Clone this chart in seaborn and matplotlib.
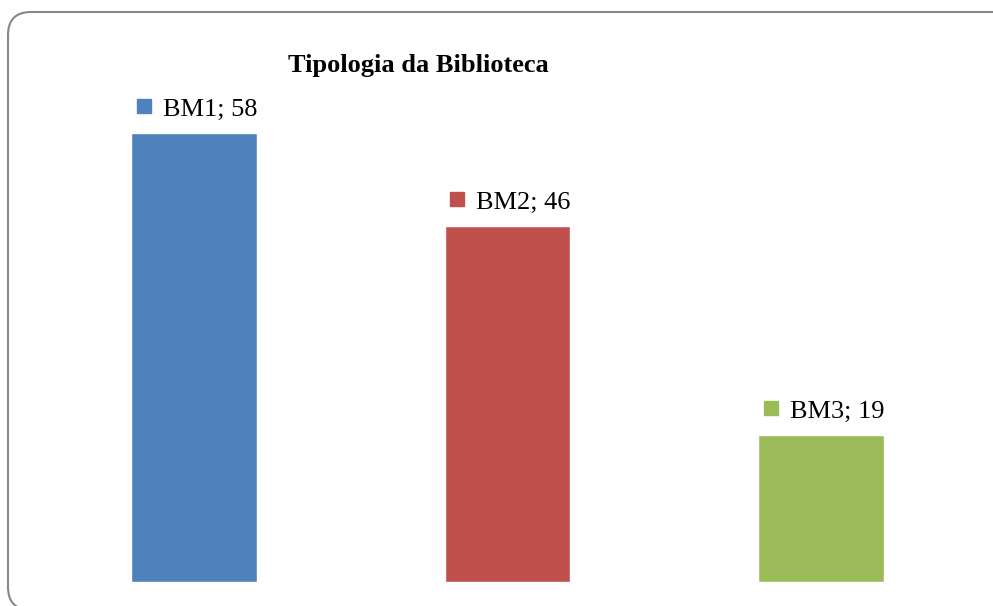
import seaborn as sns
import pandas as pd
import matplotlib.pyplot as plt
from matplotlib.patches import FancyBboxPatch
from matplotlib.transforms import offset_copy, IdentityTransform

# data
categories = ['BM1', 'BM2', 'BM3']
values = [58, 46, 19]
colors = ['#4F81BD', '#C0504D', '#9BBB59']

df = pd.DataFrame({'tipo': categories, 'n': values})

sns.set_style('white')
plt.rcParams['font.family'] = ['Liberation Serif', 'DejaVu Serif']

fig = plt.figure(figsize=(9.93, 6.06), dpi=100)
ax = fig.add_axes([37 / 993, 0.0401, 941 / 993, 0.8297])

# bars
sns.barplot(data=df, x='tipo', y='n', hue='tipo', palette=colors,
            width=0.4, legend=False, ax=ax, saturation=1)

ax.set_xlim(-0.5, 2.5)
ax.set_ylim(0, 65)
ax.set_axis_off()

# data labels with the little coloured square
for i, (cat, val) in enumerate(zip(categories, values)):
    t_text = offset_copy(ax.transData, fig=fig, x=-31, y=17, units='dots')
    ax.text(i, val, f'{cat}; {val}', transform=t_text, ha='left',
            va='baseline', fontsize=19, color='black')
    t_mark = offset_copy(ax.transData, fig=fig, x=-50, y=27, units='dots')
    ax.plot([i], [val], marker='s', markersize=10, color=colors[i],
            transform=t_mark, clip_on=False)

# title
fig.text(418 / 993, 0.8812, 'Tipologia da Biblioteca', ha='center',
         va='baseline', fontsize=19, fontweight='bold', color='black')

# rounded chart border (runs off the right and bottom edges)
border = FancyBboxPatch((8, -4), 1012, 598,
                        boxstyle='round,pad=0,rounding_size=23',
                        transform=IdentityTransform(), fill=False,
                        edgecolor='#878787', linewidth=1.5)
fig.patches.append(border)

fig.savefig('out.png', dpi=100)
